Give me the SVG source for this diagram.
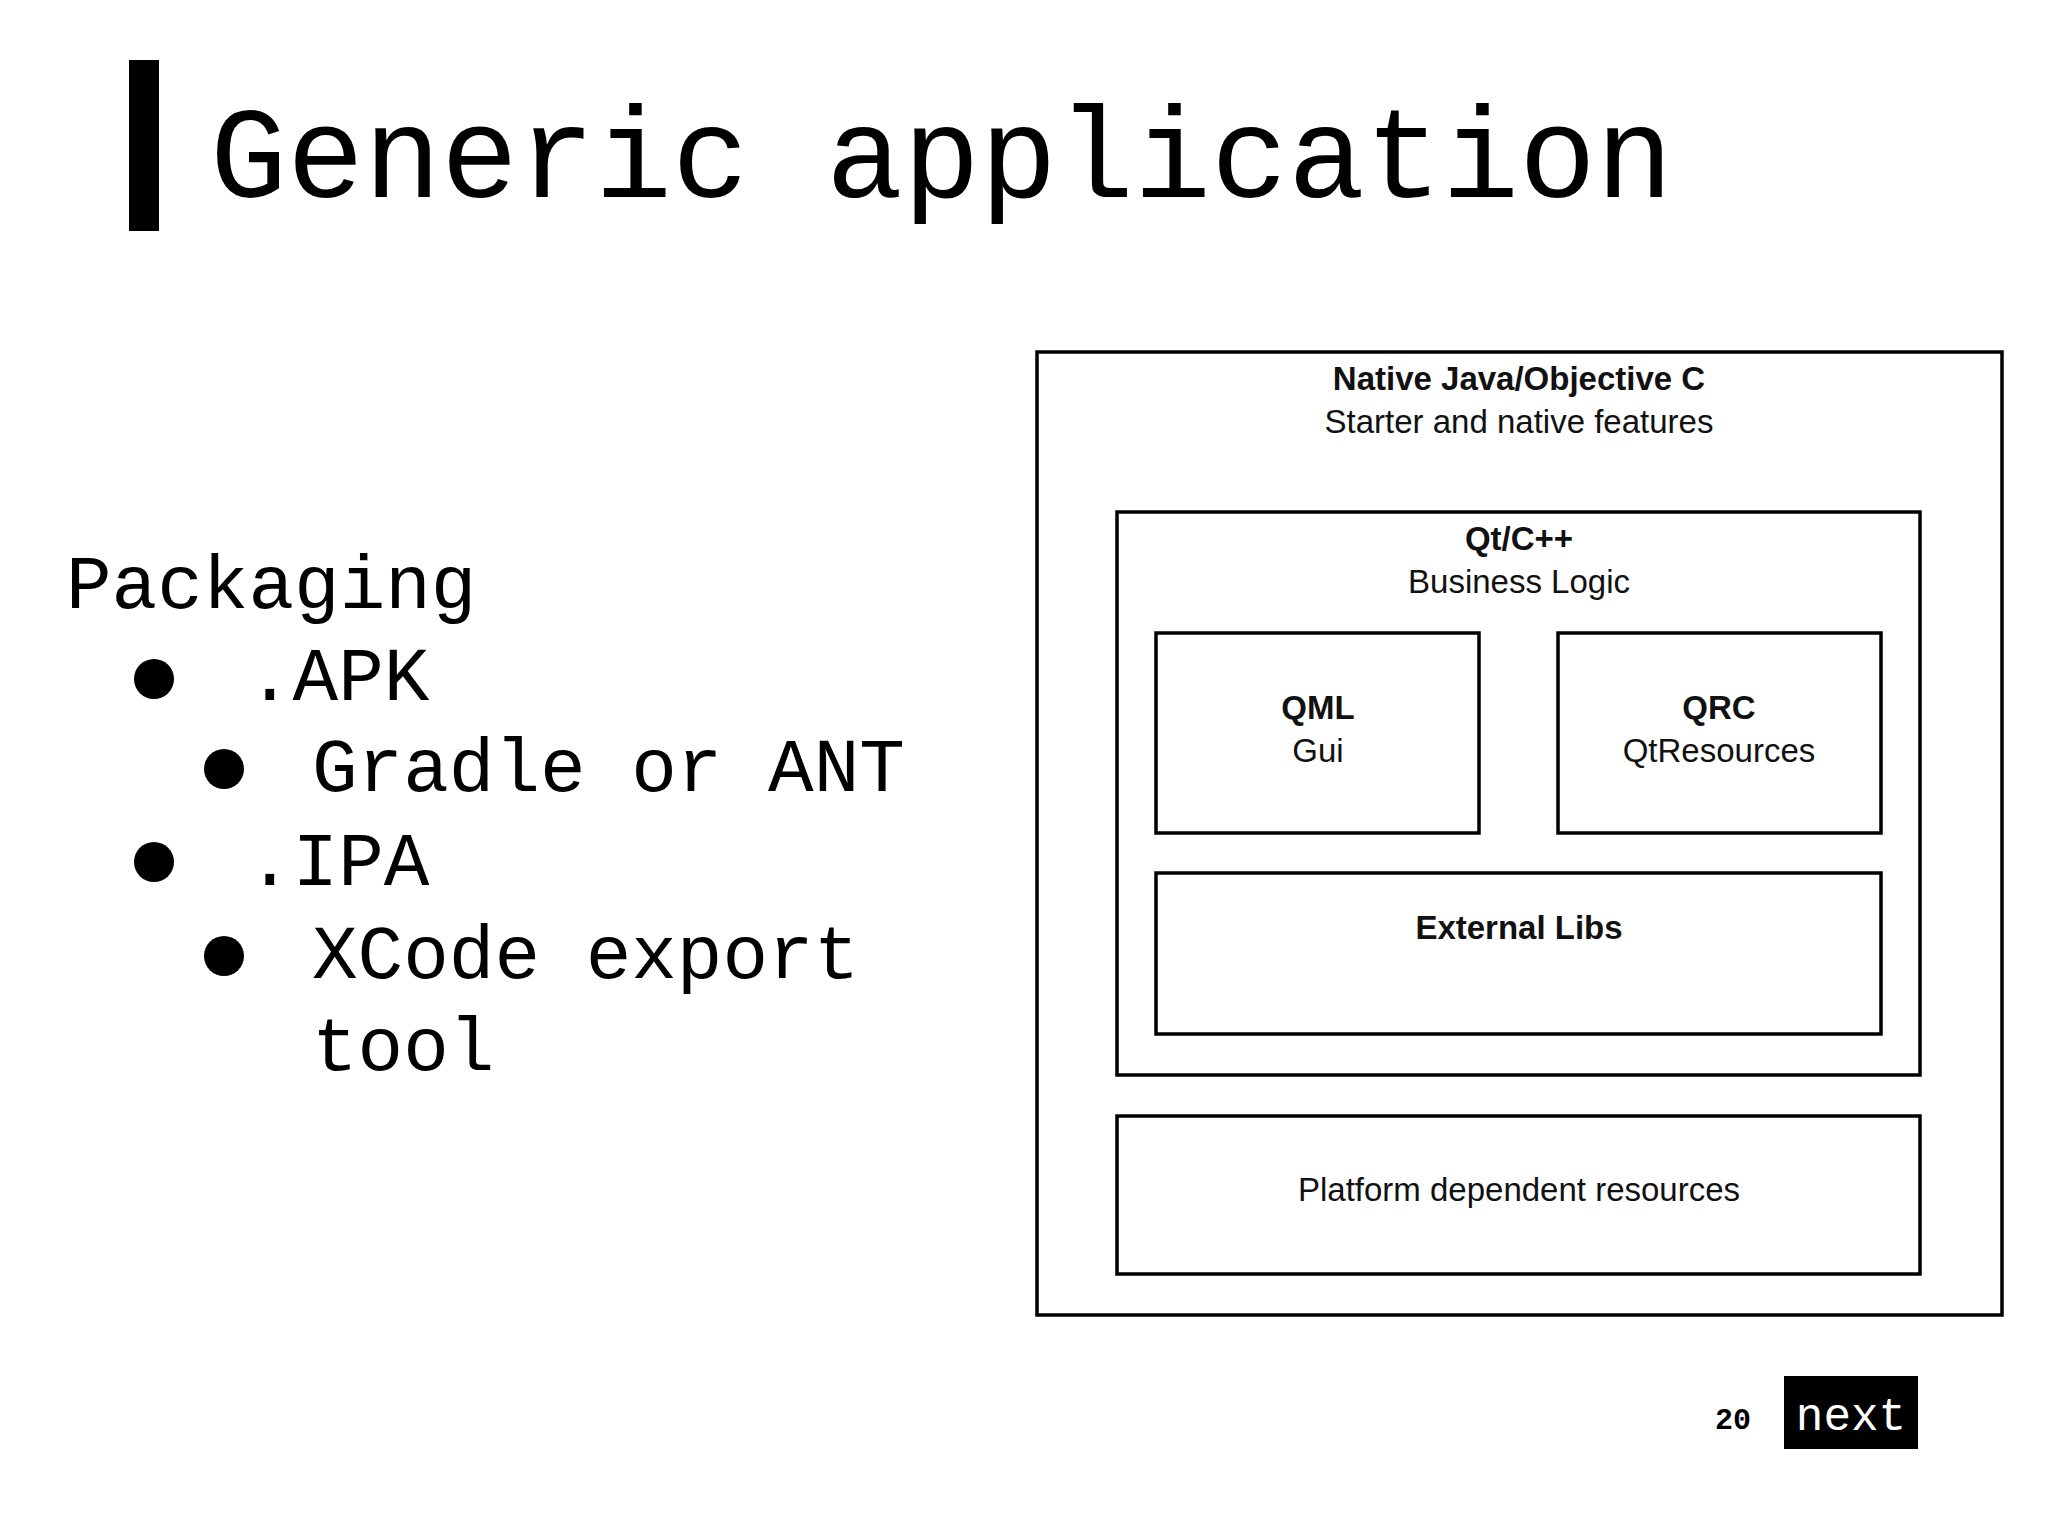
<svg xmlns="http://www.w3.org/2000/svg" width="2048" height="1536" viewBox="0 0 2048 1536">
<style>
.m{font-family:"Liberation Mono","DejaVu Sans Mono",monospace;fill:#000}
.b{fill:none;stroke:#000;stroke-width:3.5}
.s{font-family:"Liberation Sans",Arial,sans-serif;font-size:33px;fill:#111;text-anchor:middle}
.bd{font-weight:bold}
</style>
<rect width="2048" height="1536" fill="#fff"/>
<rect x="129" y="60" width="30" height="171" fill="#000"/>
<text class="m" x="210" y="197" font-size="130" textLength="1463" lengthAdjust="spacingAndGlyphs">Generic application</text>
<g id="list" class="m" font-size="76">
<text x="66" y="608">Packaging</text>
<circle cx="154" cy="679" r="20"/><text x="247" y="700">.APK</text>
<circle cx="224" cy="769" r="20"/><text x="312" y="791">Gradle or ANT</text>
<circle cx="154" cy="862" r="20"/><text x="247" y="885">.IPA</text>
<circle cx="224" cy="956" r="20"/><text x="312" y="978">XCode export</text>
<text x="312" y="1070">tool</text>
</g>
<g id="native"><rect class="b" x="1037" y="352" width="965" height="963"/>
<text class="s bd" x="1519" y="390">Native Java/Objective C</text>
<text class="s" x="1519" y="433">Starter and native features</text></g>
<g id="qt"><rect class="b" x="1117" y="512" width="803" height="563"/>
<text class="s bd" x="1519" y="550">Qt/C++</text>
<text class="s" x="1519" y="593">Business Logic</text></g>
<g id="qml"><rect class="b" x="1156" y="633" width="323" height="200"/>
<text class="s bd" x="1318" y="719">QML</text>
<text class="s" x="1318" y="762">Gui</text></g>
<g id="qrc"><rect class="b" x="1558" y="633" width="323" height="200"/>
<text class="s bd" x="1719" y="719">QRC</text>
<text class="s" x="1719" y="762">QtResources</text></g>
<g id="ext"><rect class="b" x="1156" y="873" width="725" height="161"/>
<text class="s bd" x="1519" y="939">External Libs</text></g>
<g id="platform"><rect class="b" x="1117" y="1116" width="803" height="158"/>
<text class="s" x="1519" y="1201">Platform dependent resources</text></g>
<g id="connectors"></g>
<text class="m" x="1733" y="1429" font-size="30" font-weight="bold" text-anchor="middle">20</text>
<rect x="1784" y="1376" width="134" height="73" fill="#000"/>
<text class="m" x="1851" y="1430" font-size="46" style="fill:#fff" text-anchor="middle">next</text>
</svg>
